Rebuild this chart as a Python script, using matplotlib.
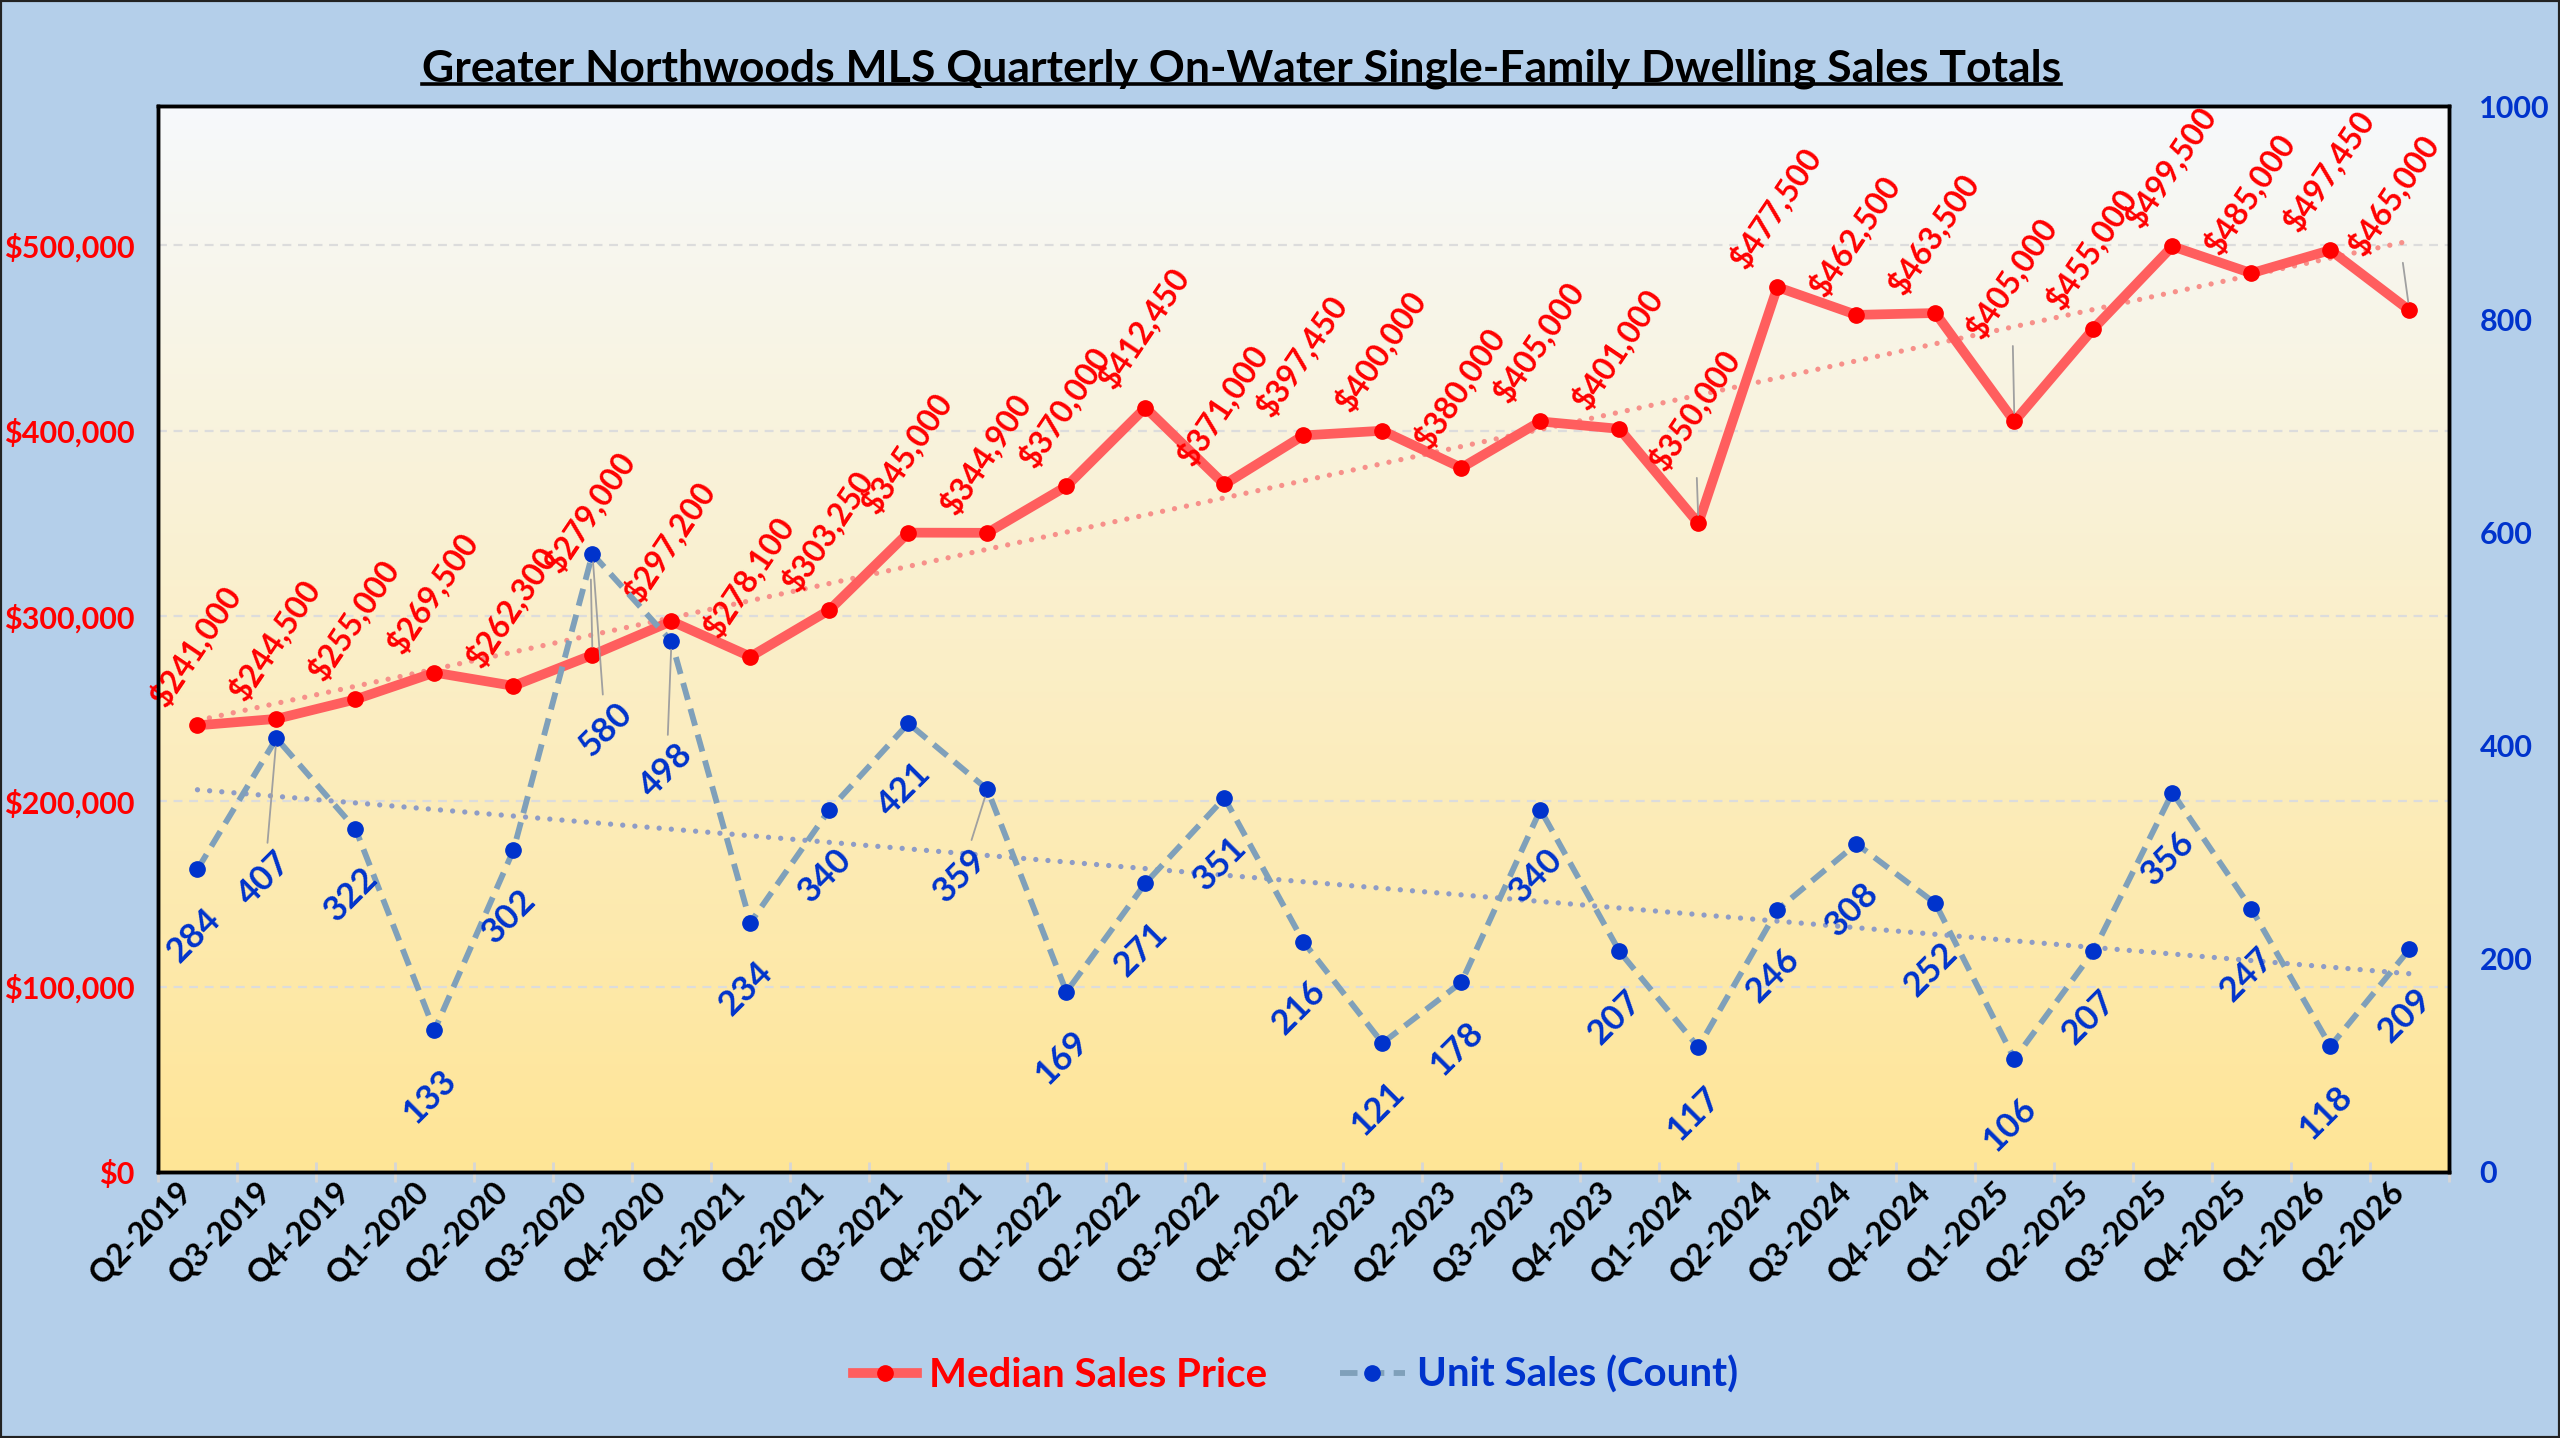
import numpy as np
import matplotlib.pyplot as plt
import matplotlib.transforms as mtransforms
from matplotlib.lines import Line2D
from matplotlib.patches import Rectangle

plt.rcParams['font.family'] = ['Lato', 'DejaVu Sans']
plt.rcParams['font.weight'] = 'bold'

# data
quarters = ['Q2-2019', 'Q3-2019', 'Q4-2019', 'Q1-2020', 'Q2-2020', 'Q3-2020', 'Q4-2020',
            'Q1-2021', 'Q2-2021', 'Q3-2021', 'Q4-2021', 'Q1-2022', 'Q2-2022', 'Q3-2022',
            'Q4-2022', 'Q1-2023', 'Q2-2023', 'Q3-2023', 'Q4-2023', 'Q1-2024', 'Q2-2024',
            'Q3-2024', 'Q4-2024', 'Q1-2025', 'Q2-2025', 'Q3-2025', 'Q4-2025', 'Q1-2026',
            'Q2-2026']
median_price = [241000, 244500, 255000, 269500, 262300, 279000, 297200, 278100, 303250,
                345000, 344900, 370000, 412450, 371000, 397450, 400000, 380000, 405000,
                401000, 350000, 477500, 462500, 463500, 405000, 455000, 499500, 485000,
                497450, 465000]
unit_sales = [284, 407, 322, 133, 302, 580, 498, 234, 340, 421, 359, 169, 271, 351, 216,
              121, 178, 340, 207, 117, 246, 308, 252, 106, 207, 356, 247, 118, 209]

title = 'Greater Northwoods MLS Quarterly On-Water Single-Family Dwelling Sales Totals'

# label nudges (offset pixels) for labels that were dragged in the original
price_offsets = {5: (-3, 144), 19: (-4, 114), 23: (-3, 144), 28: (-16, 116)}
unit_offsets = {1: (-12, -140), 5: (13, -176), 6: (-5, -129), 10: (-27, -86)}

red = '#FF0000'
blue = '#0033CC'

x = np.arange(len(quarters))

fig = plt.figure(figsize=(25.6, 14.38), dpi=100, facecolor='#B4CFEA')
ax = fig.add_axes([0.0617, 0.185, 0.8949, 0.741])
ax2 = ax.twinx()

# gradient plot area
top = np.array([246, 249, 252]) / 255
bottom = np.array([255, 229, 150]) / 255
t = np.linspace(0, 1, 256)[:, None, None]
grad = top * (1 - t) + bottom * t
ax.imshow(grad, extent=[-0.5, 28.5, 0, 575000], aspect='auto', zorder=-1,
          interpolation='bilinear')

ax.set_xlim(-0.5, 28.5)
ax.set_ylim(0, 575000)
ax2.set_ylim(0, 1000)

ax.yaxis.grid(True, color='#DCDCDC', linestyle=(0, (4, 3)), lw=1.6)
ax.set_axisbelow(True)

# trendlines
p1 = np.polyfit(x, median_price, 1)
ax.plot(x, np.polyval(p1, x), color='#F7908A', lw=3.8, linestyle=(0, (0.01, 2.3)),
        dash_capstyle='round', zorder=2)
p2 = np.polyfit(x, unit_sales, 1)
ax2.plot(x, np.polyval(p2, x), color='#8E9CC6', lw=3.8, linestyle=(0, (0.01, 2.3)),
         dash_capstyle='round', zorder=2)

l1, = ax.plot(x, median_price, color='#FF5E5E', lw=7, marker='o', markersize=11,
              markerfacecolor=red, markeredgecolor=red, zorder=3,
              solid_joinstyle='round')
l2, = ax2.plot(x, unit_sales, color='#7FA0BA', lw=4.2, linestyle=(0, (3.0, 1.6)),
               marker='o', markersize=11, markerfacecolor=blue, markeredgecolor=blue,
               zorder=3)

# data labels
for i, v in enumerate(median_price):
    off = price_offsets.get(i, (-2, 80))
    arrow = None
    if i in price_offsets:
        arrow = dict(arrowstyle='-', color='#A0A0A0', lw=1.3, shrinkA=0, shrinkB=6)
    ax.annotate('${:,.0f}'.format(v), (x[i], v), xytext=off, textcoords='offset pixels',
                ha='center', va='center', rotation=56, color=red, fontsize=23,
                fontweight='bold', arrowprops=arrow, zorder=5)

for i, v in enumerate(unit_sales):
    off = unit_offsets.get(i, (-4, -66))
    arrow = None
    if i in unit_offsets:
        arrow = dict(arrowstyle='-', color='#A0A0A0', lw=1.3, shrinkA=0, shrinkB=6)
    ax2.annotate(str(v), (x[i], v), xytext=off, textcoords='offset pixels',
                 ha='center', va='center', rotation=45, color=blue, fontsize=25,
                 fontweight='bold', arrowprops=arrow, zorder=5)

# axes
ax.set_xticks(x)
ax.set_xticklabels(quarters, rotation=45, ha='right', va='top', fontsize=23,
                   fontweight='bold')
shift = mtransforms.ScaledTranslation(16 / 100, 0, fig.dpi_scale_trans)
for lab in ax.get_xticklabels():
    lab.set_transform(lab.get_transform() + shift)
ax.set_xticks(np.arange(-0.5, 29, 1), minor=True)
ax.tick_params(axis='x', which='major', length=0, pad=3)
ax.tick_params(axis='x', which='minor', length=14, width=2, color='#D6D6D6',
               direction='inout')

ax.set_yticks(np.arange(0, 500001, 100000))
ax.set_yticklabels(['${:,.0f}'.format(v) for v in np.arange(0, 500001, 100000)])
ax.tick_params(axis='y', length=0, pad=17, labelsize=22, labelcolor=red)
ax2.set_yticks(np.arange(0, 1001, 200))
ax2.tick_params(axis='y', length=0, pad=22, labelsize=22, labelcolor=blue)
for lab in ax.get_yticklabels() + ax2.get_yticklabels():
    lab.set_fontweight('bold')

for a in (ax, ax2):
    for s in a.spines.values():
        s.set_color('black')
        s.set_linewidth(2.5)

# title
tt = fig.text(0.485, 0.943, title, ha='center', va='baseline', fontsize=32,
              fontweight='bold', color='black')

leg = fig.legend([l1, l2], ['Median Sales Price', 'Unit Sales (Count)'], loc='center',
                 bbox_to_anchor=(0.506, 0.044), ncol=2, frameon=False, fontsize=29,
                 handlelength=1.6, columnspacing=1.8, handletextpad=0.3)
leg.get_texts()[0].set_color(red)
leg.get_texts()[1].set_color(blue)

fig.canvas.draw()
bb = tt.get_window_extent(fig.canvas.get_renderer())
W, H = fig.bbox.width, fig.bbox.height
uy = bb.y0 / H + 0.004
fig.add_artist(Line2D([bb.x0 / W, bb.x1 / W], [uy, uy], transform=fig.transFigure,
                      color='black', lw=2.6))

fig.add_artist(Rectangle((0, 0), 1, 1, transform=fig.transFigure, fill=False,
                         edgecolor='#222222', lw=3))

fig.savefig('out.png', dpi=100, facecolor=fig.get_facecolor())
